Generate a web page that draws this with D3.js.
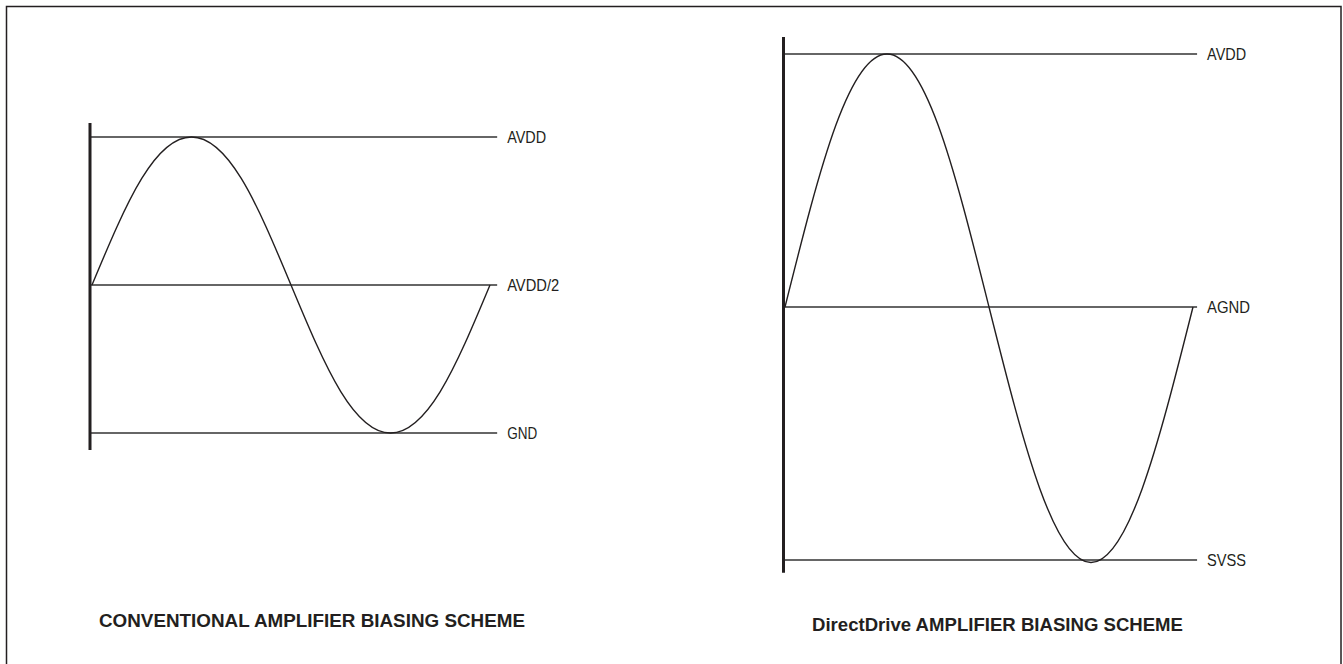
<!DOCTYPE html>
<html>
<head>
<meta charset="utf-8">
<script src="https://d3js.org/d3.v7.min.js"></script>
<style>
  body { margin: 0; background: #fff; }
  text { font-family: "Liberation Sans", Arial, sans-serif; fill: #231f20; }
</style>
</head>
<body>
<script>
// waveform: phase (fraction of one period) and level (-1 .. 1)
var wavePhase = [0, 0.125, 0.25, 0.375, 0.5, 0.625, 0.75, 0.875, 1];
var waveLevel = [0, 0.72, 1, 0.72, 0, -0.72, -1, -0.72, 0];

// rail levels and their names
var leftRails = ["AVDD", "AVDD/2", "GND"];
var leftRailLevels = [1, 0, -1];
var rightRails = ["AVDD", "AGND", "SVSS"];
var rightRailLevels = [1, 0, -1];
var rightWaveLevel = [0, 0.72, 1, 0.72, 0, -0.72, -1.01, -0.72, 0];

var titles = ["CONVENTIONAL AMPLIFIER BIASING SCHEME", "DirectDrive AMPLIFIER BIASING SCHEME"];

var W = 1343, H = 664;
var ink = "#231f20";

var svg = d3.select("body").append("svg")
    .attr("width", W)
    .attr("height", H);

// outer frame
svg.append("rect")
    .attr("x", 6.5).attr("y", 6.5)
    .attr("width", 1334.5).attr("height", 664)
    .attr("fill", "none")
    .attr("stroke", ink)
    .attr("stroke-width", 1.5);

function panel(opt) {
    var x = d3.scaleLinear().domain([0, 1]).range(opt.xr),
        y = d3.scaleLinear().domain([-1, 1]).range(opt.yr);

    var g = svg.append("g");

    // rails
    g.selectAll(".rail")
        .data(opt.rails)
        .enter().append("line")
        .attr("x1", opt.axisX)
        .attr("x2", x(opt.railEnd))
        .attr("y1", function(d, i) { return y(opt.levels[i]); })
        .attr("y2", function(d, i) { return y(opt.levels[i]); })
        .attr("stroke", "#333")
        .attr("stroke-width", 1.3);

    g.selectAll(".lbl")
        .data(opt.rails)
        .enter().append("text")
        .attr("x", x(opt.railEnd) + 10)
        .attr("y", function(d, i) { return y(opt.levels[i]); })
        .attr("dy", ".36em")
        .attr("font-size", 17)
        .attr("textLength", function(d, i) { return opt.lblW[i]; })
        .attr("lengthAdjust", "spacingAndGlyphs")
        .text(function(d) { return d; });

    // waveform
    var pts = wavePhase.map(function(p, i) { return [p, opt.wave[i]]; });
    g.append("path")
        .datum(pts)
        .attr("fill", "none")
        .attr("stroke", ink)
        .attr("stroke-width", 1.4)
        .attr("d", d3.line()
            .x(function(d) { return x(d[0]); })
            .y(function(d) { return y(d[1]); })
            .curve(d3.curveNatural));

    // vertical axis
    g.append("line")
        .attr("x1", opt.axisX).attr("x2", opt.axisX)
        .attr("y1", y(opt.axisTop)).attr("y2", y(opt.axisBot))
        .attr("stroke", ink)
        .attr("stroke-width", 3);

    g.append("text")
        .attr("x", opt.titleX)
        .attr("y", opt.titleY)
        .attr("font-size", 19)
        .attr("font-weight", "bold")
        .attr("textLength", opt.titleW)
        .attr("lengthAdjust", "spacingAndGlyphs")
        .text(opt.title);
}

panel({
    xr: [92, 490], yr: [433, 137], axisX: 90,
    axisTop: 1.095, axisBot: -1.115, railEnd: 1.018,
    rails: leftRails, levels: leftRailLevels, wave: waveLevel,
    lblW: [39, 52, 30],
    title: titles[0], titleX: 99, titleY: 627, titleW: 426
});

panel({
    xr: [785, 1193], yr: [560, 54], axisX: 783.5,
    axisTop: 1.067, axisBot: -1.05, railEnd: 1.01,
    rails: rightRails, levels: rightRailLevels, wave: rightWaveLevel,
    lblW: [39, 43, 39],
    title: titles[1], titleX: 812, titleY: 631, titleW: 371
});
</script>
</body>
</html>
